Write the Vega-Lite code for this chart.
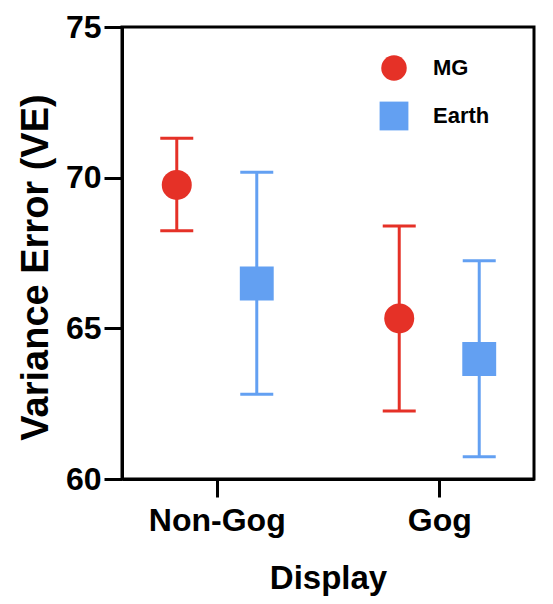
{
  "$schema": "https://vega.github.io/schema/vega-lite/v6.json",
  "autosize": "none",
  "width": 412,
  "height": 452,
  "padding": {"left": 122, "top": 27, "right": 19, "bottom": 125},
  "background": "white",
  "config": {
    "font": "Liberation Sans",
    "view": {"stroke": "black", "strokeWidth": 3},
    "axis": {
      "domainColor": "black", "domainWidth": 3, "tickColor": "black", "tickWidth": 3,
      "tickSize": 18, "grid": false, "labelFont": "Liberation Sans", "labelFontWeight": "bold",
      "labelColor": "black", "titleColor": "black", "titleFont": "Liberation Sans", "titleFontWeight": "bold"
    }
  },
  "data": {
    "values": [
      {"display": "Non-Gog", "group": "MG", "mean": 69.76, "lo": 68.24, "hi": 71.31},
      {"display": "Non-Gog", "group": "Earth", "mean": 66.49, "lo": 62.81, "hi": 70.18},
      {"display": "Gog", "group": "MG", "mean": 65.33, "lo": 62.26, "hi": 68.40},
      {"display": "Gog", "group": "Earth", "mean": 63.98, "lo": 60.74, "hi": 67.24}
    ]
  },
  "encoding": {
    "x": {
      "field": "display", "type": "nominal", "sort": ["Non-Gog", "Gog"],
      "scale": {"type": "point", "padding": 0.426},
      "axis": {"title": "Display", "labelAngle": 0, "labelFontSize": 32, "labelPadding": 8, "titleFontSize": 33, "titlePadding": 26}
    },
    "xOffset": {
      "field": "group", "type": "nominal",
      "scale": {"type": "point", "domain": ["MG", "Earth"], "range": [-40, 40], "padding": 0}
    },
    "color": {
      "field": "group", "type": "nominal",
      "scale": {"domain": ["MG", "Earth"], "range": ["#E53127", "#63A0F2"]},
      "legend": {
        "title": null, "orient": "none", "legendX": 259, "legendY": 28,
        "labelFontSize": 22, "labelFontWeight": "bold", "labelColor": "black", "labelFont": "Liberation Sans",
        "symbolSize": 650, "symbolStrokeWidth": 0, "labelOffset": 26, "rowPadding": 20, "symbolOpacity": 1
      }
    }
  },
  "layer": [
    {
      "mark": {"type": "rule", "strokeWidth": 3},
      "encoding": {
        "y": {"field": "lo", "type": "quantitative",
          "scale": {"domain": [60, 75], "nice": false, "zero": false},
          "axis": {"title": "Variance Error (VE)", "values": [60, 65, 70, 75], "labelFontSize": 32, "labelPadding": 3, "titleFontSize": 38, "titlePadding": 10, "titleY": 240}},
        "y2": {"field": "hi"}
      }
    },
    {
      "mark": {"type": "tick", "thickness": 3, "size": 33, "opacity": 1},
      "encoding": {"y": {"field": "lo", "type": "quantitative"}}
    },
    {
      "mark": {"type": "tick", "thickness": 3, "size": 33, "opacity": 1},
      "encoding": {"y": {"field": "hi", "type": "quantitative"}}
    },
    {
      "mark": {"type": "point", "filled": true, "opacity": 1, "strokeWidth": 0, "size": 900},
      "encoding": {
        "y": {"field": "mean", "type": "quantitative"},
        "shape": {
          "field": "group", "type": "nominal",
          "scale": {"domain": ["MG", "Earth"], "range": ["circle", "M-1.13,-1.13H1.13V1.13H-1.13Z"]},
          "legend": {
            "title": null, "orient": "none", "legendX": 259, "legendY": 28,
            "labelFontSize": 22, "labelFontWeight": "bold", "labelColor": "black", "labelFont": "Liberation Sans",
            "symbolSize": 650, "symbolStrokeWidth": 0, "labelOffset": 26, "rowPadding": 20, "symbolOpacity": 1
          }
        }
      }
    }
  ]
}
